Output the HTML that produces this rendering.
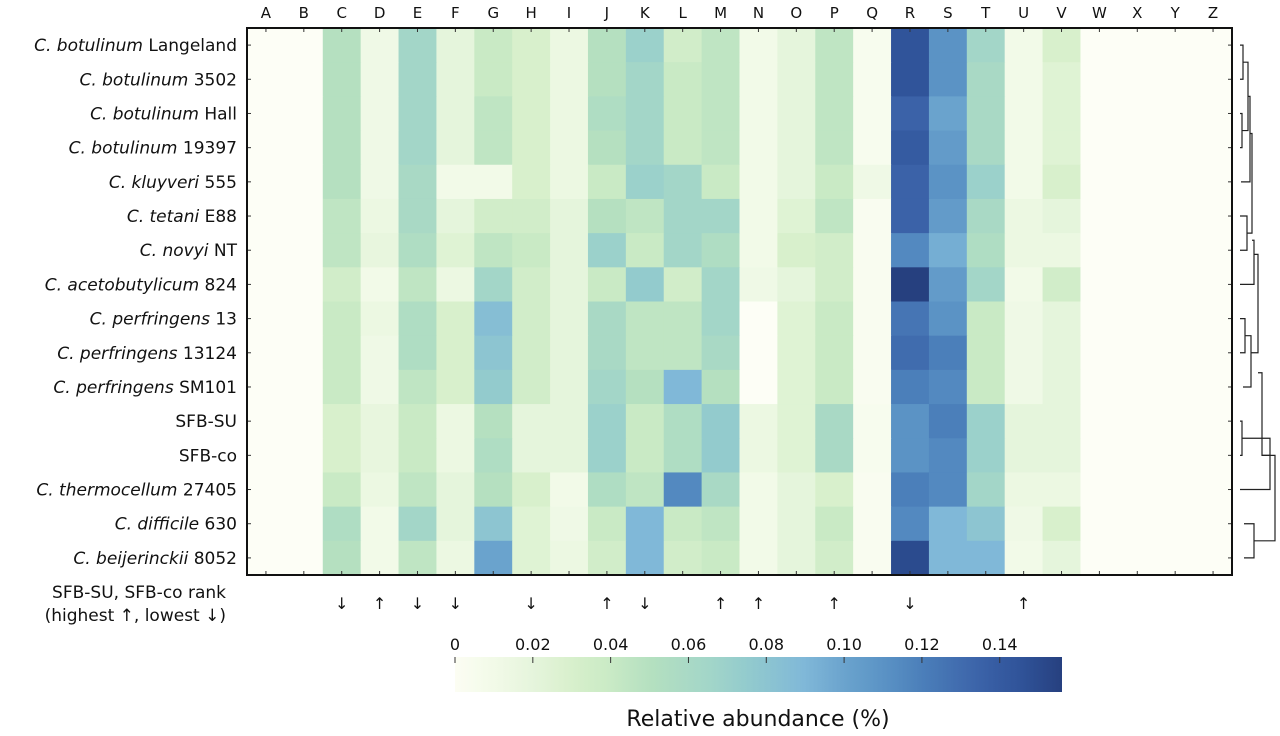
<!DOCTYPE html>
<html><head><meta charset="utf-8"><style>
body{margin:0;background:#fff;width:1280px;height:732px;overflow:hidden;font-family:"DejaVu Sans","Liberation Sans",sans-serif;}
svg text{font-family:"DejaVu Sans","Liberation Sans",sans-serif;fill:#111;}
</style></head><body>
<svg id="chart" width="1280" height="732" viewBox="0 0 1280 732" xmlns="http://www.w3.org/2000/svg">
<defs>
<linearGradient id="cbgrad" x1="0" x2="1" y1="0" y2="0"></linearGradient>
</defs>
<g id="cells"></g>
<g id="collabels"></g>
<g id="rowlabels"></g>
<g id="ticks"></g>
<rect x="247" y="28" width="985" height="547" fill="none" stroke="#111" stroke-width="2"/>
<g id="dendro" stroke="#222" stroke-width="1.2" fill="none"></g>
<text x="226" y="598" text-anchor="end" font-size="17">SFB-SU, SFB-co rank</text>
<text x="226" y="621" text-anchor="end" font-size="17">(highest ↑, lowest ↓)</text>
<g id="arrows"></g>
<rect x="455" y="657" width="607" height="35" fill="url(#cbgrad)"/>
<g id="cbticks"></g>
<text x="758" y="726" text-anchor="middle" font-size="22">Relative abundance (%)</text>
</svg>
<script>
const columns = "ABCDEFGHIJKLMNOPQRSTUVWXYZ".split("");
const rows = ["C. botulinum|Langeland","C. botulinum|3502","C. botulinum|Hall","C. botulinum|19397","C. kluyveri|555","C. tetani|E88","C. novyi|NT","C. acetobutylicum|824","C. perfringens|13","C. perfringens|13124","C. perfringens|SM101","|SFB-SU","|SFB-co","C. thermocellum|27405","C. difficile|630","C. beijerinckii|8052"];
// values for columns C..V (A,B,W..Z are zero)
const r1 = [.05,.012,.065,.02,.04,.03,.015,.05,.07,.035,.045,.01,.02,.045,.005,.145,.11,.065,.01,.03];
const r2 = [.05,.012,.065,.02,.04,.03,.015,.05,.065,.04,.045,.01,.02,.045,.005,.145,.11,.06,.01,.025];
const r3 = [.05,.012,.065,.02,.045,.03,.015,.055,.065,.04,.045,.01,.02,.045,.005,.135,.10,.06,.01,.025];
const r4 = [.05,.012,.065,.02,.045,.03,.015,.05,.065,.04,.045,.01,.02,.045,.005,.14,.105,.06,.01,.025];
const r5 = [.05,.012,.06,.01,.01,.03,.015,.04,.07,.065,.04,.01,.02,.04,.012,.135,.11,.07,.01,.03];
const r6 = [.045,.015,.06,.02,.035,.035,.02,.05,.045,.065,.065,.01,.025,.045,.003,.135,.105,.06,.015,.02];
const r7 = [.045,.018,.055,.025,.045,.04,.02,.07,.04,.065,.055,.01,.03,.035,.003,.115,.095,.055,.015,.015];
const r8 = [.035,.01,.045,.015,.065,.035,.02,.04,.075,.035,.065,.012,.02,.035,.003,.16,.105,.065,.01,.035];
const r9 = [.04,.015,.055,.03,.085,.035,.02,.06,.045,.045,.065,0,.025,.04,.003,.125,.11,.04,.012,.02];
const r10 = [.04,.012,.055,.03,.08,.035,.02,.06,.045,.045,.06,0,.025,.04,.003,.13,.12,.04,.012,.02];
const r11 = [.04,.012,.045,.03,.075,.035,.02,.065,.05,.09,.05,0,.025,.04,.003,.12,.115,.04,.012,.02];
const r12 = [.03,.018,.04,.015,.05,.02,.02,.07,.04,.055,.075,.015,.025,.06,.005,.11,.12,.07,.02,.02];
const r13 = [.03,.018,.04,.015,.055,.02,.02,.07,.04,.055,.075,.015,.025,.06,.005,.11,.115,.07,.02,.02];
const r14 = [.04,.015,.045,.02,.05,.03,.01,.055,.045,.115,.06,.01,.02,.03,.003,.12,.115,.065,.015,.015];
const r15 = [.055,.01,.065,.02,.08,.025,.012,.04,.09,.04,.045,.01,.02,.04,.003,.115,.09,.08,.012,.03];
const r16 = [.05,.01,.045,.015,.1,.025,.015,.035,.09,.035,.04,.01,.02,.035,.003,.15,.09,.09,.01,.02];
const values = [r1,r2,r3,r4,r5,r6,r7,r8,r9,r10,r11,r12,r13,r14,r15,r16];
const arrowCols = ["C","D","E","F","H","J","K","M","N","P","R","U"];
const arrowDirs = ["↓","↑","↓","↓","↓","↑","↓","↑","↑","↑","↓","↑"];
const cbTicks = [0,0.02,0.04,0.06,0.08,0.10,0.12,0.14];
const cbTickLabels = ["0","0.02","0.04","0.06","0.08","0.10","0.12","0.14"];

const NS="http://www.w3.org/2000/svg";
const X0=247,W=985,Y0=28,H=547,VMAX=0.156;
const cw=W/columns.length, rh=H/rows.length;
const xCol=i=>X0+i*cw, yRow=j=>Y0+j*rh;
const cbX=v=>455+v/VMAX*607;
const stops=[[0,[252,253,243]],[0.01,[242,250,232]],[0.02,[229,245,220]],[0.03,[216,240,204]],[0.04,[201,234,197]],[0.05,[181,224,192]],[0.065,[163,214,200]],[0.075,[147,203,205]],[0.09,[128,184,216]],[0.10,[106,163,205]],[0.11,[91,147,197]],[0.12,[75,127,186]],[0.135,[59,98,168]],[0.145,[48,84,154]],[0.156,[38,64,127]]];
function color(v){
  if(v<=0) return "rgb(253,254,246)";
  for(let i=1;i<stops.length;i++){ if(v<=stops[i][0]){const a=stops[i-1],b=stops[i],t=(v-a[0])/(b[0]-a[0]);
    return "rgb("+a[1].map((c,k)=>Math.round(c+(b[1][k]-c)*t)).join(",")+")";}}
  return "rgb(38,64,127)";
}
function mk(tag,attrs,parent){const e=document.createElementNS(NS,tag);for(const k in attrs)e.setAttribute(k,attrs[k]);parent.appendChild(e);return e;}
const cells=document.getElementById("cells");
rows.forEach((r,j)=>{columns.forEach((c,i)=>{
  const v=(i>=2&&i<=21)?values[j][i-2]:0;
  const e=mk("rect",{x:xCol(i),y:yRow(j),width:cw+0.6,height:rh+0.6,fill:color(v)},cells);
  
  
});});
const cl=document.getElementById("collabels"), tk=document.getElementById("ticks");
columns.forEach((c,i)=>{
  const t=mk("text",{x:xCol(i)+cw/2,y:18,"text-anchor":"middle","font-size":15},cl);t.textContent=c;
  
  
  mk("line",{x1:xCol(i)+cw/2,x2:xCol(i)+cw/2,y1:28,y2:32,stroke:"#333"},tk);
  mk("line",{x1:xCol(i)+cw/2,x2:xCol(i)+cw/2,y1:571,y2:575,stroke:"#333"},tk);
});
const rl=document.getElementById("rowlabels");
rows.forEach((r,j)=>{
  const [it,rest]=r.split("|");
  const t=mk("text",{x:237,y:yRow(j)+rh/2+6,"text-anchor":"end","font-size":17},rl);
  
  
  if(it){const s=mk("tspan",{"font-style":"italic"},t);s.textContent=it+" ";}
  const s2=mk("tspan",{},t);s2.textContent=rest;
  mk("line",{x1:247,x2:251,y1:yRow(j)+rh/2,y2:yRow(j)+rh/2,stroke:"#333"},tk);
  mk("line",{x1:1228,x2:1232,y1:yRow(j)+rh/2,y2:yRow(j)+rh/2,stroke:"#333"},tk);
});
const ar=document.getElementById("arrows");
arrowCols.forEach((c,k)=>{
  const i=columns.indexOf(c);
  const t=mk("text",{x:xCol(i)+cw/2,y:609,"text-anchor":"middle","font-size":16},ar);t.textContent=arrowDirs[k];
  
  
});
const g=document.getElementById("cbgrad");
for(let k=0;k<=40;k++){const v=k/40*VMAX;mk("stop",{offset:(k/40),"stop-color":color(v===0?0.0001:v)},g);}
const cbt=document.getElementById("cbticks");
cbTicks.forEach((v,k)=>{
  const t=mk("text",{x:cbX(v),y:650,"text-anchor":"middle","font-size":16},cbt);t.textContent=cbTickLabels[k];
  
  
  mk("line",{x1:cbX(v),x2:cbX(v),y1:657,y2:663,stroke:"#333"},cbt);
});
// dendrogram (approximate structure)
const d=document.getElementById("dendro");
const ry=j=>yRow(j)+rh/2;
function br(x,y1,y2,xl1,xl2){mk("path",{d:`M${xl1} ${y1}H${x}V${y2}H${xl2}`},d);}
br(1243,ry(0),ry(1),1240,1240);
br(1242,ry(2),ry(3),1240,1240);
br(1248,(ry(0)+ry(1))/2,(ry(2)+ry(3))/2,1243,1242);
br(1250,(ry(0)+ry(3))/2,ry(4),1248,1241);
br(1247,ry(5),ry(6),1240,1240);
br(1252,(ry(0)+ry(4))/2+20,(ry(5)+ry(6))/2,1250,1247);
br(1254,ry(6)-10,ry(7),1252,1240);
br(1245,ry(8),ry(9),1240,1240);
br(1251,(ry(8)+ry(9))/2,ry(10),1245,1243);
br(1258,ry(7)-30,(ry(8)+ry(10))/2,1254,1251);
br(1242,ry(11),ry(12),1240,1240);
br(1270,(ry(11)+ry(12))/2,ry(13),1242,1240);
br(1262,ry(9)+20,(ry(11)+ry(13))/2,1258,1270);
br(1254,ry(14),ry(15),1244,1244);
br(1275,ry(12),(ry(14)+ry(15))/2,1262,1254);
</script>
</body></html>
